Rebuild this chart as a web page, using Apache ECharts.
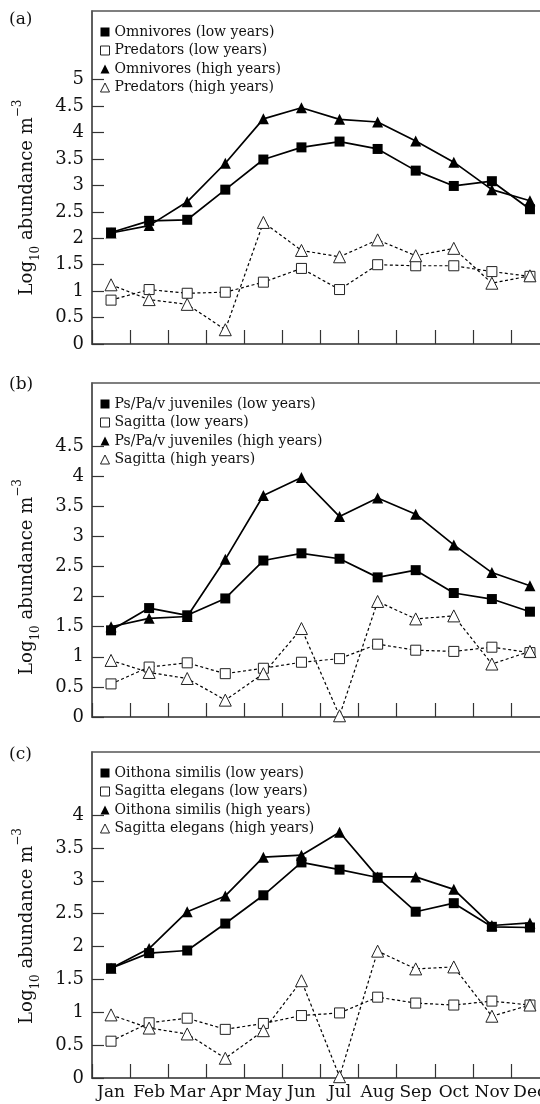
<!DOCTYPE html>
<html>
<head>
<meta charset="utf-8">
<script src="https://cdn.jsdelivr.net/npm/echarts@6/dist/echarts.min.js"></script>
<style>
  html, body { margin: 0; padding: 0; background: #fff; }
  #chart { width: 540px; height: 1104px; }
</style>
</head>
<body>
<div id="chart"></div>
<script>
var months = ['Jan', 'Feb', 'Mar', 'Apr', 'May', 'Jun', 'Jul', 'Aug', 'Sep', 'Oct', 'Nov', 'Dec'];

// (a)
var omniLow  = [2.11, 2.33, 2.35, 2.92, 3.49, 3.72, 3.83, 3.69, 3.28, 2.99, 3.08, 2.55];
var predLow  = [0.83, 1.03, 0.96, 0.98, 1.17, 1.43, 1.03, 1.50, 1.48, 1.48, 1.37, 1.28];
var omniHigh = [2.10, 2.24, 2.69, 3.42, 4.26, 4.47, 4.25, 4.20, 3.84, 3.44, 2.92, 2.71];
var predHigh = [1.12, 0.84, 0.75, 0.27, 2.30, 1.77, 1.65, 1.97, 1.67, 1.81, 1.15, 1.29];

// (b)
var juvLow  = [1.44, 1.81, 1.69, 1.97, 2.60, 2.72, 2.63, 2.32, 2.44, 2.06, 1.96, 1.75];
var sagLow  = [0.55, 0.83, 0.90, 0.72, 0.81, 0.91, 0.97, 1.21, 1.11, 1.09, 1.16, 1.07];
var juvHigh = [1.50, 1.64, 1.67, 2.62, 3.68, 3.98, 3.33, 3.64, 3.37, 2.86, 2.40, 2.18];
var sagHigh = [0.94, 0.74, 0.64, 0.28, 0.72, 1.47, 0.02, 1.92, 1.63, 1.68, 0.88, 1.09];

// (c)
var oithLow  = [1.67, 1.90, 1.94, 2.35, 2.78, 3.28, 3.17, 3.05, 2.53, 2.66, 2.30, 2.29];
var elegLow  = [0.56, 0.84, 0.91, 0.74, 0.83, 0.95, 0.99, 1.23, 1.14, 1.11, 1.17, 1.11];
var oithHigh = [1.67, 1.97, 2.53, 2.77, 3.36, 3.39, 3.74, 3.06, 3.06, 2.87, 2.32, 2.36];
var elegHigh = [0.96, 0.76, 0.67, 0.30, 0.72, 1.48, 0.02, 1.93, 1.66, 1.69, 0.94, 1.11];

var ticksA = [0, 0.5, 1, 1.5, 2, 2.5, 3, 3.5, 4, 4.5, 5];
var ticksB = [0, 0.5, 1, 1.5, 2, 2.5, 3, 3.5, 4, 4.5];
var ticksC = [0, 0.5, 1, 1.5, 2, 2.5, 3, 3.5, 4];

var serif = 'DejaVu Serif';
var axisCol = '#555';

var panels = [
  { tag: '(a)', tagTop: 11, top: 11, height: 333, max: 6.3, ticks: ticksA, shift: 40,
    names: ['Omnivores (low years)', 'Predators (low years)', 'Omnivores (high years)', 'Predators (high years)'],
    data: [omniLow, predLow, omniHigh, predHigh] },
  { tag: '(b)', tagTop: 376, top: 383, height: 334, max: 5.55, ticks: ticksB, shift: 54,
    names: ['Ps/Pa/v juveniles (low years)', 'Sagitta (low years)', 'Ps/Pa/v juveniles (high years)', 'Sagitta (high years)'],
    data: [juvLow, sagLow, juvHigh, sagHigh] },
  { tag: '(c)', tagTop: 746, top: 752, height: 326, max: 4.96, ticks: ticksC, shift: 22,
    names: ['Oithona similis (low years)', 'Sagitta elegans (low years)', 'Oithona similis (high years)', 'Sagitta elegans (high years)'],
    data: [oithLow, elegLow, oithHigh, elegHigh] }
];

// filled square, hollow square, filled triangle, hollow triangle
var kinds = [
  { symbol: 'rect', size: 10, fill: '#000', dashed: false },
  { symbol: 'rect', size: 10, fill: '#fff', dashed: true },
  { symbol: 'triangle', size: 11, fill: '#000', dashed: false },
  { symbol: 'triangle', size: 12, fill: '#fff', dashed: true }
];

var grids = [], xAxes = [], yAxes = [], series = [], legends = [], titles = [];

panels.forEach(function (p, i) {
  grids.push({ left: 92, width: 457, top: p.top, height: p.height,
    outerBoundsMode: 'none', containLabel: false,
    show: true, borderColor: axisCol, borderWidth: 1.5 });

  xAxes.push({
    gridIndex: i, type: 'category', data: months, boundaryGap: true,
    axisLine: { show: true, lineStyle: { color: axisCol, width: 1.5 } },
    axisTick: { show: true, inside: true, length: 14, interval: 0, lineStyle: { color: '#333', width: 1.2 } },
    axisLabel: { show: i === 2, interval: 0, margin: 6, color: '#111', fontFamily: serif, fontSize: 17 }
  });

  yAxes.push({
    gridIndex: i, type: 'value', min: 0, max: p.max, interval: 0.5,
    splitLine: { show: false },
    axisLine: { show: true, lineStyle: { color: axisCol, width: 1.5 } },
    axisTick: { show: true, inside: true, length: 12, customValues: p.ticks, lineStyle: { color: '#333', width: 1.2 } },
    axisLabel: { customValues: p.ticks, margin: 8, color: '#111', fontFamily: serif, fontSize: 18 },
    name: '{a|Log}{s|10}{a| abundance m}{p|\u22123}',
    nameLocation: 'middle', nameGap: 50,
    nameTextStyle: {
      padding: [0, p.shift, 0, 0],
      rich: {
        a: { fontFamily: serif, fontSize: 18, color: '#111', lineHeight: 30 },
        s: { fontFamily: serif, fontSize: 12, color: '#111', lineHeight: 14, verticalAlign: 'bottom' },
        p: { fontFamily: serif, fontSize: 12, color: '#111', lineHeight: 14, verticalAlign: 'top' }
      }
    }
  });

  titles.push({ text: p.tag, left: 9, top: p.tagTop, padding: 0,
    textStyle: { fontFamily: serif, fontSize: 17, fontWeight: 'normal', color: '#111' } });

  var legendData = [];
  p.names.forEach(function (name, k) {
    var kd = kinds[k];
    legendData.push({ name: name, icon: kd.symbol,
      itemStyle: { color: kd.fill, borderColor: '#222', borderWidth: kd.fill === '#fff' ? 1 : 0 } });
    series.push({
      name: name, type: 'line', xAxisIndex: i, yAxisIndex: i,
      data: p.data[k],
      symbol: kd.symbol, symbolSize: kd.size, showAllSymbol: true,
      z: kd.dashed ? 3 : 4,
      lineStyle: { color: '#000', width: kd.dashed ? 1.2 : 1.7, type: kd.dashed ? [3, 2.5] : 'solid' },
      itemStyle: { color: kd.fill, borderColor: '#222', borderWidth: kd.fill === '#fff' ? 1 : 0 },
      emphasis: { disabled: true }
    });
  });

  legends.push({
    orient: 'vertical', left: 100, top: p.top + 14, padding: 0,
    itemWidth: 9, itemHeight: 9, itemGap: 4.5,
    textStyle: { fontFamily: serif, fontSize: 14, lineHeight: 14, color: '#111' },
    data: legendData
  });
});

var myChart = echarts.init(document.getElementById('chart'));
myChart.setOption({
  animation: false,
  backgroundColor: '#fff',
  title: titles,
  legend: legends,
  grid: grids,
  xAxis: xAxes,
  yAxis: yAxes,
  series: series
});
</script>
</body>
</html>
